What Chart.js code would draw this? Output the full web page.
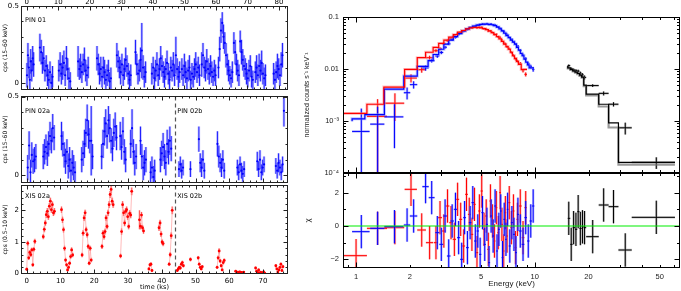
<!DOCTYPE html>
<html>
<head>
<meta charset="utf-8">
<script src="https://cdn.jsdelivr.net/npm/chart.js@4.4.1/dist/chart.umd.min.js"></script>
<style>
html, body { margin: 0; padding: 0; background: #fff; }
#wrap { position: relative; width: 681px; height: 291px; overflow: hidden; }
canvas { position: absolute; }
</style>
</head>
<body>
<div id="wrap">
	<canvas id="pin1"></canvas>
	<canvas id="pin2"></canvas>
	<canvas id="xis2"></canvas>
	<canvas id="spec"></canvas>
	<canvas id="resid"></canvas>
</div>
<script>
// ---- tick labels ----
const pin1Ticks = [0, 10, 20, 30, 40, 50, 60, 70, 80];
const obs2Ticks = [0, 10, 20, 30, 40, 50, 60, 70];
const pinRateTicks = [0, 0.5];
const xisRateTicks = [0, 1, 2];
const specTicks = [1e-4, 1e-3, 0.01, 0.1];
const specTickLabels = ['10⁻⁴', '10⁻³', '0.01', '0.1'];
const chiTicks = [-2, 0, 2];
const chiTickLabels = ['−2', '0', '2'];
const energyTicks = [1, 2, 5, 10, 20, 50];

// ---- PIN light curve, observation 01 (time ks, cps 15-60 keV, error) ----
const pin1T = [
	0.1,0.4,0.7,1.0,1.3,1.6,1.9,2.2,
	4.2,4.6,5.0,5.4,5.8,6.2,6.6,7.0,7.4,7.8,8.2,
	10.2,10.6,11.0,11.4,11.8,12.2,12.6,13.0,13.4,13.8,
	16.3,16.7,17.1,17.5,17.9,18.3,18.7,19.1,19.5,
	22.3,22.7,23.1,23.5,23.9,24.3,24.7,25.1,25.5,25.9,26.3,26.7,
	28.6,29.0,29.4,29.8,30.2,30.6,31.0,31.4,31.8,32.2,32.6,33.0,
	34.5,34.9,35.3,35.7,36.1,36.5,36.9,37.3,37.7,
	39.7,40.1,40.5,40.9,41.3,41.7,42.1,42.5,42.9,43.3,43.7,44.1,44.5,44.9,45.3,45.7,46.1,46.5,46.9,47.3,47.7,48.1,48.5,
	49.2,49.6,50.0,50.4,50.8,51.2,51.6,52.0,52.4,52.8,53.2,53.6,54.0,54.4,54.8,
	55.5,55.9,56.3,56.7,57.1,57.5,57.9,58.3,58.7,59.1,59.5,59.9,
	60.8,61.2,61.6,62.0,62.4,62.8,63.2,63.6,64.0,64.4,64.8,65.2,
	65.7,66.1,66.5,66.9,67.3,67.7,68.1,68.5,68.9,69.3,69.7,70.1,70.5,70.9,71.3,71.7,
	72.5,72.9,73.3,73.7,74.1,74.5,74.9,75.3,75.7,
	78.3,78.7,79.1,79.5,79.9,80.3,80.7,81.1
];
const pin1Y = [
	0.05,0.18,0.10,0.02,0.14,0.08,0.16,0.12,
	0.23,0.20,0.13,0.16,0.08,0.11,0.05,0.02,0.07,0.00,0.04,
	0.08,0.12,0.06,0.10,0.13,0.05,0.16,0.09,0.03,0.01,
	0.14,0.09,0.11,0.07,0.12,0.15,0.08,0.05,0.10,
	0.16,0.12,0.06,0.09,0.04,0.10,0.07,0.02,0.05,0.08,0.01,0.03,
	0.18,0.14,0.10,0.07,0.12,0.05,0.09,0.15,0.11,0.06,0.02,0.05,
	0.20,0.12,0.06,0.08,0.15,0.21,0.10,0.04,0.07,
	0.06,0.10,0.03,0.08,0.12,0.05,0.09,0.16,0.11,0.07,0.04,0.09,0.13,0.06,0.02,0.10,0.08,0.12,0.05,0.18,0.09,0.04,0.07,
	0.09,0.05,0.11,0.07,0.03,0.08,0.10,0.02,0.06,0.04,0.09,0.12,0.07,0.10,0.05,
	0.12,0.18,0.10,0.08,0.14,0.09,0.06,0.11,0.07,0.04,0.08,0.05,
	0.10,0.22,0.34,0.39,0.30,0.26,0.18,0.12,0.08,0.05,0.03,0.07,
	0.26,0.20,0.12,0.08,0.05,0.27,0.20,0.15,0.11,0.09,0.06,0.03,0.08,0.11,0.04,0.02,
	0.07,0.10,0.05,0.11,0.08,0.13,0.06,0.03,0.05,
	0.06,0.02,0.07,0.11,0.09,0.05,0.12,0.18
];
const pin1E = [
	0.08,0.08,0.07,0.07,0.08,0.07,0.08,0.08,
	0.09,0.08,0.07,0.08,0.07,0.07,0.07,0.07,0.07,0.06,0.07,
	0.07,0.08,0.07,0.08,0.08,0.07,0.08,0.07,0.07,0.06,
	0.10,0.07,0.08,0.07,0.07,0.08,0.07,0.07,0.07,
	0.08,0.07,0.07,0.08,0.07,0.07,0.08,0.07,0.07,0.07,0.06,0.07,
	0.08,0.07,0.07,0.08,0.07,0.07,0.07,0.08,0.07,0.07,0.06,0.07,
	0.08,0.07,0.07,0.07,0.08,0.18,0.08,0.07,0.07,
	0.07,0.07,0.07,0.07,0.08,0.07,0.07,0.08,0.07,0.07,0.07,0.07,0.08,0.07,0.06,0.07,0.07,0.08,0.07,0.12,0.07,0.07,0.07,
	0.07,0.07,0.08,0.07,0.07,0.07,0.08,0.06,0.07,0.07,0.07,0.08,0.07,0.07,0.07,
	0.08,0.08,0.07,0.07,0.08,0.07,0.07,0.07,0.07,0.06,0.07,0.07,
	0.07,0.08,0.08,0.07,0.08,0.07,0.08,0.07,0.07,0.06,0.06,0.07,
	0.07,0.08,0.07,0.07,0.07,0.07,0.08,0.07,0.07,0.07,0.07,0.06,0.07,0.07,0.07,0.06,
	0.07,0.08,0.07,0.08,0.07,0.08,0.07,0.07,0.07,
	0.07,0.07,0.07,0.08,0.07,0.07,0.08,0.08
];

// ---- PIN light curve, observation 02a/02b ----
const pin2T = [
	0.3,0.7,1.1,1.5,1.9,2.3,2.7,
	4.9,5.3,5.7,6.1,6.5,6.9,7.3,7.7,8.1,
	10.3,10.7,11.1,11.5,11.9,12.3,12.7,13.1,13.5,13.9,14.3,
	16.3,16.7,17.1,17.5,17.9,18.3,18.7,19.1,19.5,
	22.2,22.6,23.0,23.4,23.8,24.2,24.6,25.0,25.4,25.8,26.2,26.6,
	27.7,28.1,28.5,28.9,29.3,
	30.8,31.2,31.6,32.0,32.4,
	33.7,34.1,34.5,34.9,35.3,
	36.7,37.1,37.5,37.9,
	39.6,40.0,40.4,40.8,41.2,41.6,42.0,42.4,42.8,
	45.1,45.5,45.9,46.3,
	48.5,
	51.0,51.4,51.8,52.2,52.6,
	56.5,56.9,57.3,57.7,58.1,58.5,
	62.4,62.8,63.2,63.6,64.0,64.4,
	68.3,68.7,69.1,69.5,69.9,70.3,
	73.8,74.2,74.6,75.0,75.4,75.8,76.2
];
const pin2Y = [
	0.05,0.19,0.02,0.13,0.09,0.10,0.12,
	0.12,0.15,0.18,0.14,0.20,0.25,0.22,0.30,0.24,
	0.25,0.20,0.13,0.09,0.15,0.06,0.10,0.03,0.08,0.05,0.02,
	0.10,0.14,0.20,0.27,0.35,0.26,0.22,0.22,0.12,
	0.12,0.20,0.28,0.33,0.25,0.35,0.30,0.22,0.17,0.27,0.31,0.24,
	0.25,0.18,0.28,0.15,0.10,
	0.20,0.30,0.15,0.08,0.12,
	0.22,0.12,0.05,0.08,0.10,
	0.02,0.05,-0.01,0.03,
	0.10,0.14,0.18,0.12,0.08,0.20,0.15,0.22,0.17,
	0.04,0.07,0.03,0.05,
	0.04,
	0.23,0.08,0.05,0.10,0.03,
	0.20,0.12,0.08,0.05,0.10,0.03,
	0.05,0.02,0.07,0.03,0.01,0.04,
	0.09,0.04,0.10,0.02,0.05,0.07,
	0.06,0.03,0.08,0.05,0.02,0.07,0.41
];
const pin2E = [
	0.08,0.09,0.08,0.08,0.08,0.08,0.08,
	0.08,0.08,0.08,0.08,0.08,0.09,0.08,0.09,0.08,
	0.09,0.08,0.08,0.08,0.08,0.08,0.08,0.08,0.08,0.08,0.07,
	0.08,0.08,0.09,0.09,0.10,0.09,0.08,0.22,0.08,
	0.08,0.09,0.09,0.09,0.08,0.09,0.09,0.08,0.08,0.09,0.09,0.08,
	0.09,0.08,0.09,0.08,0.08,
	0.09,0.12,0.08,0.08,0.08,
	0.09,0.08,0.08,0.08,0.08,
	0.07,0.07,0.07,0.07,
	0.08,0.08,0.09,0.08,0.08,0.09,0.08,0.09,0.08,
	0.05,0.05,0.05,0.05,
	0.05,
	0.08,0.06,0.06,0.06,0.05,
	0.08,0.07,0.06,0.06,0.06,0.05,
	0.05,0.05,0.05,0.05,0.05,0.05,
	0.06,0.05,0.06,0.05,0.05,0.05,
	0.05,0.05,0.06,0.05,0.05,0.05,0.10
];

// ---- XIS light curve, observation 02a/02b (cps 0.5-10 keV) ----
const xisT = [
	0.0,0.3,0.6,0.9,1.2,1.5,1.8,2.1,2.4,
	4.9,5.2,5.5,5.8,6.1,6.4,6.7,7.0,7.3,7.6,7.9,8.2,
	10.3,10.6,10.9,11.2,11.5,11.8,12.1,12.4,12.7,13.0,13.3,13.6,
	16.4,16.7,17.0,17.3,17.6,17.9,18.2,18.5,18.8,19.1,
	22.3,22.6,22.9,23.2,23.5,23.8,24.1,24.4,24.7,25.0,25.3,25.6,
	27.8,28.1,28.4,28.7,29.0,29.3,29.6,29.9,30.2,30.5,30.8,31.1,
	33.4,33.7,34.0,34.3,34.6,
	36.2,36.5,36.8,37.1,
	39.2,39.5,39.8,40.1,40.4,
	42.2,42.5,42.8,43.1,
	44.6,44.9,45.2,45.5,45.8,46.1,46.4,
	48.5,
	50.8,51.1,51.4,51.7,52.0,
	56.4,56.7,57.0,57.3,57.6,57.9,58.2,58.5,
	61.9,62.2,62.5,62.8,63.1,63.4,63.7,64.0,64.3,
	67.8,68.1,68.4,68.7,69.0,69.3,69.6,69.9,70.2,70.5,
	73.8,74.1,74.4,74.7,75.0,75.3,75.6,75.9
];
const xisY = [
	0.14,0.96,0.50,0.67,0.60,0.75,0.28,0.77,1.02,
	1.17,1.40,1.60,1.86,1.97,1.80,2.13,2.29,2.02,2.18,1.92,1.97,
	2.02,1.70,1.39,0.80,0.43,0.28,0.12,0.20,0.33,0.54,0.75,0.59,
	0.59,1.28,1.76,1.92,1.39,1.23,0.86,0.33,0.80,0.43,
	0.86,1.28,1.17,1.33,1.76,1.49,1.92,2.18,2.50,2.66,2.29,2.18,
	0.56,1.33,2.18,1.92,1.60,1.97,2.02,1.80,1.49,1.90,1.85,2.60,
	1.70,1.50,1.85,1.45,1.35,
	0.15,0.28,0.30,0.10,
	1.45,1.60,1.25,1.00,0.95,
	0.30,0.60,1.20,2.00,
	0.10,0.15,0.20,0.18,0.30,0.35,0.25,
	0.45,
	0.50,0.30,0.20,0.15,0.22,
	0.20,0.50,0.72,0.40,0.25,0.12,0.35,0.42,
	0.08,0.02,0.05,0.03,0.06,0.01,0.04,0.02,0.05,
	0.18,0.08,0.04,0.12,0.02,0.05,0.01,0.03,0.06,0.02,
	0.25,0.15,0.05,0.12,0.20,0.30,0.10,0.22
];
const xisE = [
	0.05,0.08,0.07,0.07,0.07,0.07,0.06,0.07,0.08,
	0.08,0.09,0.09,0.10,0.10,0.10,0.10,0.11,0.10,0.10,0.10,0.10,
	0.10,0.10,0.09,0.08,0.07,0.06,0.05,0.06,0.06,0.07,0.08,0.07,
	0.07,0.09,0.10,0.10,0.09,0.09,0.08,0.06,0.08,0.07,
	0.08,0.09,0.09,0.09,0.10,0.09,0.10,0.11,0.11,0.12,0.11,0.10,
	0.07,0.10,0.11,0.10,0.10,0.10,0.10,0.10,0.09,0.10,0.10,0.12,
	0.30,0.10,0.10,0.09,0.09,
	0.05,0.06,0.06,0.05,
	0.10,0.10,0.09,0.08,0.08,
	0.06,0.08,0.10,0.12,
	0.04,0.05,0.05,0.05,0.06,0.06,0.05,
	0.06,
	0.06,0.05,0.05,0.04,0.05,
	0.05,0.07,0.08,0.06,0.05,0.04,0.06,0.06,
	0.03,0.02,0.03,0.02,0.03,0.02,0.03,0.02,0.03,
	0.04,0.03,0.03,0.04,0.02,0.03,0.02,0.02,0.03,0.02,
	0.05,0.04,0.03,0.04,0.05,0.05,0.03,0.05
];

// ---- spectrum: XIS (red) ----
const redE = [1.0,1.32,1.65,2.03,2.33,2.58,
	2.8,2.95,3.1,3.25,3.4,3.55,3.7,3.85,4.0,4.15,
	4.3,4.45,4.6,4.75,4.9,5.05,5.2,5.35,5.5,5.65,
	5.8,5.95,6.1,6.25,6.4,6.55,6.7,6.85,7.0,
	7.2,7.4,7.6,7.8,8.0,
	8.3,8.6,8.9];
const redHW = [0.15,0.17,0.21,0.16,0.13,0.12,
	0.075,0.075,0.075,0.075,0.075,0.075,0.075,0.075,0.075,0.075,
	0.075,0.075,0.075,0.075,0.075,0.075,0.075,0.075,0.075,0.075,
	0.075,0.075,0.075,0.075,0.075,0.075,0.075,0.075,0.075,
	0.1,0.1,0.1,0.1,0.1,
	0.15,0.15,0.15];
const redY = [0.00004,0.00123,0.0022,0.0067,0.0097,0.0165,
	0.0225,0.0245,0.0305,0.035,0.0385,0.043,0.0478,0.0505,0.053,0.058,
	0.0605,0.061,0.064,0.0615,0.0635,0.0635,0.0595,0.0585,0.0535,0.054,
	0.0505,0.0465,0.0465,0.0415,0.0405,0.0362,0.0318,0.0305,0.0268,
	0.0245,0.0208,0.0183,0.0155,0.0142,
	0.0128,0.0093,0.0079];
const redDY = [0.00006,0.0014,0.0012,0.0012,0.0012,0.0015,
	0.0016,0.0017,0.0018,0.0019,0.002,0.002,0.0021,0.0021,0.0022,0.0022,
	0.0022,0.0022,0.0023,0.0023,0.0023,0.0023,0.0022,0.0022,0.0022,0.0021,
	0.0021,0.002,0.002,0.0019,0.0019,0.0018,0.0017,0.0016,0.0015,
	0.0013,0.0012,0.0011,0.001,0.0009,
	0.0008,0.0007,0.0007];
const redChi = [-1.78,-0.14,-0.1,2.2,-0.24,-1.0,
	-1.0,0.5,-0.3,1.2,0.2,-0.8,1.6,0.4,-1.2,1.9,
	0.7,-0.5,1.3,-1.6,0.9,2.1,-0.2,0.6,-1.4,1.5,
	0.3,-0.9,1.1,-0.4,2.0,0.1,-1.5,0.8,-0.6,
	1.4,-0.1,0.9,-1.3,0.4,
	1.2,-0.7,1.1];
const redModelE = [0.85,1.15,1.43,1.87,2.2,2.45,2.7,2.9,3.1,3.3,3.5,3.7,3.9,4.1,4.3,4.5,4.7,4.9,5.1,5.3,5.5,5.7,5.9,6.1,6.3,6.5,6.7,6.9,7.1,7.3,7.5,7.7,7.9,8.1,8.4,8.7,9.05];
const redModelY = [0.0013,0.0014,0.0021,0.0045,0.0098,0.0165,0.021,0.026,0.031,0.036,0.041,0.046,0.051,0.055,0.059,0.062,0.063,0.063,0.062,0.060,0.057,0.054,0.050,0.046,0.042,0.038,0.034,0.030,0.027,0.024,0.021,0.018,0.016,0.014,0.0122,0.0098,0.0098];

// ---- spectrum: XIS (blue) ----
const blueE = [1.07,1.32,1.64,1.93,2.1,2.45,2.65,
	2.85,3.0,3.15,3.3,3.45,3.6,3.75,3.9,4.05,4.2,
	4.35,4.5,4.65,4.8,4.95,5.1,5.25,5.4,5.55,5.7,
	5.85,6.0,6.15,6.3,6.45,6.6,6.75,6.9,7.05,
	7.25,7.45,7.65,7.85,8.05,
	8.3,8.6,8.9,9.2,9.5,9.8];
const blueHW = [0.12,0.12,0.2,0.08,0.1,0.1,0.1,
	0.075,0.075,0.075,0.075,0.075,0.075,0.075,0.075,0.075,0.075,
	0.075,0.075,0.075,0.075,0.075,0.075,0.075,0.075,0.075,0.075,
	0.075,0.075,0.075,0.075,0.075,0.075,0.075,0.075,0.075,
	0.1,0.1,0.1,0.1,0.1,
	0.15,0.15,0.15,0.15,0.15,0.15];
const blueY = [0.00063,0.00087,0.0012,0.0035,0.005,0.0105,0.0145,
	0.0178,0.0208,0.0262,0.0305,0.0368,0.0405,0.0462,0.0495,0.0548,0.0575,
	0.0625,0.0655,0.0665,0.0695,0.0705,0.0728,0.072,0.0745,0.0715,0.0735,
	0.0698,0.0702,0.0655,0.0638,0.0605,0.0548,0.0528,0.0472,0.0458,
	0.0405,0.0372,0.0335,0.0302,0.0275,
	0.0228,0.0186,0.0158,0.0128,0.0112,0.0098];
const blueDY = [0.0011,0.001,0.0009,0.0009,0.0008,0.0012,0.0012,
	0.0014,0.0015,0.0016,0.0017,0.0018,0.0019,0.002,0.002,0.0021,0.0021,
	0.0022,0.0022,0.0022,0.0023,0.0023,0.0023,0.0023,0.0023,0.0023,0.0023,
	0.0023,0.0023,0.0022,0.0022,0.0022,0.0021,0.0021,0.002,0.002,
	0.0019,0.0018,0.0017,0.0016,0.0015,
	0.0013,0.0012,0.0011,0.001,0.0009,0.0009];
const blueChi = [-0.34,-0.14,-0.04,0.06,0.6,2.36,1.7,
	-0.4,-1.1,0.6,-1.8,0.3,1.0,-0.7,-2.0,0.5,-1.3,
	0.2,1.4,-0.9,-0.3,-1.7,0.8,-1.1,0.1,-2.2,0.6,
	-0.6,1.2,-1.5,-0.2,0.9,-1.9,0.4,-0.8,1.0,
	-1.2,0.2,-0.5,-1.6,0.7,
	-0.3,-1.1,0.5,-0.9,0.3,1.2];
const blueModelE = [0.95,1.12,1.44,1.85,2.2,2.53,2.7,2.9,3.1,3.3,3.5,3.7,3.9,4.1,4.3,4.5,4.7,4.9,5.1,5.3,5.5,5.7,5.9,6.1,6.3,6.5,6.7,6.9,7.1,7.3,7.5,7.7,7.9,8.1,8.3,8.5,8.7,8.9,9.1,9.3,9.5,9.9];
const blueModelY = [0.00099,0.0011,0.00133,0.0041,0.0073,0.0112,0.0145,0.019,0.024,0.030,0.036,0.042,0.048,0.054,0.059,0.063,0.067,0.070,0.072,0.073,0.073,0.072,0.071,0.068,0.064,0.059,0.054,0.049,0.044,0.040,0.036,0.033,0.030,0.026,0.023,0.020,0.018,0.0155,0.0135,0.012,0.0105,0.0105];

// ---- spectrum: PIN (black) ----
const pinE = [15.5,16.0,16.5,17.0,17.5,18.0,18.5,19.0,21.1,24.3,27.6,32.1,47.9];
const pinELo = [15.3,15.8,16.3,16.8,17.3,17.8,18.3,18.8,19.4,22.8,25.9,29.4,34.9];
const pinEHi = [15.8,16.3,16.8,17.3,17.8,18.3,18.8,19.4,22.8,25.9,29.4,34.9,60.9];
const pinY = [0.0116,0.0101,0.0096,0.0093,0.0091,0.0083,0.0077,0.0069,0.0048,0.0034,0.0021,0.00074,0.00016];
const pinDY = [0.0006,0.0006,0.0006,0.0006,0.0006,0.0006,0.0006,0.0006,0.0003,0.0003,0.0002,0.00019,0.00004];
const pinChi = [0.46,-1.1,-0.1,-0.2,0.86,-0.15,-0.05,-0.1,-0.64,1.26,1.16,-1.44,0.52];
const pinModelE = [15.3,15.8,16.3,16.8,17.3,17.8,18.3,18.8,19.4,22.8,25.9,29.4,34.9,60.9];
const pinModelY = [0.0115,0.0105,0.0098,0.0092,0.0087,0.0082,0.0076,0.007,0.0049,0.0033,0.0021,0.00092,0.00016,0.00016];
const pinModel2Y = [0.0113,0.0103,0.0096,0.009,0.0085,0.008,0.0074,0.0068,0.0047,0.0031,0.0019,0.00075,0.000145,0.000145];

// ---- helpers ----
const LF = 'DejaVu Sans';
const RF = 'Liberation Sans';
const pts = (xs, ys) => xs.map((x, i) => ({ x, y: ys[i] }));
function range(a, b, step) {
	const out = [];
	for (let v = a; v <= b + 1e-9; v += step) out.push(+v.toFixed(6));
	return out;
}
function logMinor(d0, d1) {
	const out = [];
	for (let d = d0; d <= d1; d++) for (let k = 2; k <= 9; k++) out.push(k * Math.pow(10, d));
	return out;
}

const errorBarPlugin = {
	id: 'errorBars',
	beforeDatasetsDraw(chart) {
		const { ctx, chartArea: a } = chart;
		ctx.save();
		ctx.beginPath();
		ctx.rect(a.left, a.top, a.right - a.left, a.bottom - a.top);
		ctx.clip();
		chart.data.datasets.forEach(ds => {
			const eb = ds.errorBars;
			if (!eb) return;
			const xs = chart.scales.x, ys = chart.scales.y;
			const log = ys.type === 'logarithmic';
			const draw = (color, width) => {
				ctx.strokeStyle = color;
				ctx.lineWidth = width;
				ctx.beginPath();
				ds.data.forEach((p, j) => {
					const x = xs.getPixelForValue(p.x), y = ys.getPixelForValue(p.y);
					if (eb.dy !== undefined) {
						const d = typeof eb.dy === 'number' ? eb.dy : eb.dy[j];
						const lo = p.y - d;
						const y1 = (log && lo <= 0) ? a.bottom + 5 : ys.getPixelForValue(lo);
						const y2 = ys.getPixelForValue(p.y + d);
						ctx.moveTo(x, y1);
						ctx.lineTo(x, y2);
					}
					if (eb.xLo) {
						ctx.moveTo(xs.getPixelForValue(eb.xLo[j]), y);
						ctx.lineTo(xs.getPixelForValue(eb.xHi[j]), y);
					}
				});
				ctx.stroke();
			};
			if (eb.halo) draw(eb.halo, eb.haloWidth || 2.5);
			draw(eb.color, eb.width || 1);
		});
		ctx.restore();
	}
};

const framePlugin = {
	id: 'frame',
	afterDatasetsDraw(chart, args, o) {
		if (!o.xMajor) return;
		const { ctx, chartArea: a } = chart;
		const xs = chart.scales.x, ys = chart.scales.y;
		const L = a.left + 0.5, R = a.right - 0.5, T = a.top + 0.5, B = a.bottom - 0.5;
		ctx.save();
		if (o.hline !== undefined) {
			const y = ys.getPixelForValue(o.hline);
			ctx.strokeStyle = o.hlineColor;
			ctx.lineWidth = 1.2;
			ctx.beginPath(); ctx.moveTo(L, y); ctx.lineTo(R, y); ctx.stroke();
		}
		if (o.split !== undefined) {
			const x = Math.round(xs.getPixelForValue(o.split)) + 0.5;
			ctx.strokeStyle = '#555';
			ctx.lineWidth = 1.2;
			ctx.setLineDash([4, 3]);
			ctx.beginPath(); ctx.moveTo(x, T); ctx.lineTo(x, B); ctx.stroke();
			ctx.setLineDash([]);
		}
		ctx.strokeStyle = o.color || '#000';
		ctx.lineWidth = 1;
		ctx.strokeRect(L, T, R - L, B - T);
		ctx.beginPath();
		const xt = (v, len) => {
			const p = Math.round(xs.getPixelForValue(v)) + 0.5;
			if (p < L || p > R) return;
			ctx.moveTo(p, B); ctx.lineTo(p, B - len);
			ctx.moveTo(p, T); ctx.lineTo(p, T + len);
		};
		const yt = (v, len) => {
			const p = Math.round(ys.getPixelForValue(v)) + 0.5;
			if (p < T || p > B) return;
			ctx.moveTo(L, p); ctx.lineTo(L + len, p);
			ctx.moveTo(R, p); ctx.lineTo(R - len, p);
		};
		o.xMajor.forEach(v => xt(v, o.major));
		o.xMinor.forEach(v => xt(v, o.minor));
		o.yMajor.forEach(v => yt(v, o.major));
		o.yMinor.forEach(v => yt(v, o.minor));
		ctx.stroke();
		if (o.notes) {
			ctx.fillStyle = '#000';
			ctx.font = '6.5px "DejaVu Sans"';
			ctx.textBaseline = 'middle';
			o.notes.forEach(n => ctx.fillText(n.text, xs.getPixelForValue(n.x), ys.getPixelForValue(n.y)));
		}
		ctx.restore();
	}
};

Chart.register(errorBarPlugin, framePlugin);

function makeChart(id, box, area, xPos, config) {
	const cv = document.getElementById(id);
	cv.width = box.w;
	cv.height = box.h;
	cv.style.left = box.x + 'px';
	cv.style.top = box.y + 'px';
	const o = config.options;
	o.responsive = false;
	o.animation = false;
	o.layout = { padding: {
		left: 0,
		right: box.x + box.w - area.r,
		top: xPos === 'top' ? 0 : area.t - box.y,
		bottom: xPos === 'bottom' ? 0 : box.y + box.h - area.b
	} };
	const yw = area.l - box.x;
	const xh = xPos === 'top' ? area.t - box.y : box.y + box.h - area.b;
	const zero = s => { s.paddingTop = 0; s.paddingBottom = 0; s.paddingLeft = 0; s.paddingRight = 0; };
	o.scales.y.afterFit = s => { s.width = yw; zero(s); };
	o.scales.x.afterFit = s => { s.height = xh; zero(s); };
	o.scales.x.position = xPos;
	o.plugins = Object.assign({ legend: { display: false }, tooltip: { enabled: false } }, o.plugins);
	return new Chart(cv.getContext('2d'), config);
}

function linAxis(min, max, ticks, show, extra) {
	return Object.assign({
		type: 'linear', min, max,
		grid: { display: false, drawTicks: false },
		border: { display: false },
		ticks: { display: show, font: { family: LF, size: 7 }, color: '#000', padding: 2, maxRotation: 0, autoSkip: false },
		afterBuildTicks: s => { s.ticks = ticks.map(v => ({ value: v })); }
	}, extra || {});
}
function lcTitle(text) {
	return { display: true, text, font: { family: LF, size: 6 }, color: '#000', padding: { top: 2, bottom: 0 } };
}

const lcFrame = (xMajor, xMinor, yMajor, yMinor, extra) => Object.assign({
	xMajor, xMinor, yMajor, yMinor, major: 4, minor: 2, color: '#222'
}, extra || {});

// ---- left: light curves ----
makeChart('pin1', { x: 0, y: 0, w: 296, h: 94 }, { l: 21, t: 6, r: 288, b: 92 }, 'top', {
	type: 'scatter',
	data: { datasets: [{
		data: pts(pin1T, pin1Y),
		pointRadius: 1.1, pointBackgroundColor: '#0000ff', pointBorderWidth: 0,
		errorBars: { dy: pin1E, color: '#2020ff', width: 1, halo: 'rgba(110,110,255,0.45)', haloWidth: 2.5 }
	}] },
	options: {
		scales: {
			x: linAxis(-1.8, 82.85, pin1Ticks, true, { ticks: { font: { family: LF, size: 7 }, color: '#000', padding: 0, maxRotation: 0, autoSkip: false } }),
			y: linAxis(-0.046, 0.5, pinRateTicks, true, { title: lcTitle('cps (15–60 keV)') })
		},
		plugins: { frame: lcFrame(pin1Ticks, range(-0, 82, 2), pinRateTicks, range(0.1, 0.4, 0.1),
			{ notes: [{ text: 'PIN 01', x: -0.5, y: 0.405 }] }) }
	}
});

makeChart('pin2', { x: 0, y: 92, w: 296, h: 95 }, { l: 21, t: 96, r: 288, b: 185 }, 'bottom', {
	type: 'scatter',
	data: { datasets: [{
		data: pts(pin2T, pin2Y),
		pointRadius: 1.1, pointBackgroundColor: '#0000ff', pointBorderWidth: 0,
		errorBars: { dy: pin2E, color: '#2020ff', width: 1, halo: 'rgba(110,110,255,0.45)', haloWidth: 2.5 }
	}] },
	options: {
		scales: {
			x: linAxis(-1.7, 77.4, obs2Ticks, false),
			y: linAxis(-0.048, 0.504, pinRateTicks, true, { title: lcTitle('cps (15–60 keV)') })
		},
		plugins: { frame: lcFrame(obs2Ticks, range(0, 76, 2), pinRateTicks, range(0.1, 0.4, 0.1),
			{ split: 44, notes: [{ text: 'PIN 02a', x: -0.5, y: 0.405 }, { text: 'PIN 02b', x: 44.6, y: 0.405 }] }) }
	}
});

makeChart('xis2', { x: 0, y: 181, w: 296, h: 110 }, { l: 21, t: 185, r: 288, b: 274 }, 'bottom', {
	type: 'scatter',
	data: { datasets: [{
		data: pts(xisT, xisY),
		showLine: true, spanGaps: 1.0, borderColor: 'rgba(255,140,140,0.75)', borderWidth: 0.8,
		pointRadius: 1.4, pointBackgroundColor: '#ff0000', pointBorderWidth: 0,
		errorBars: { dy: xisE, color: 'rgba(255,60,60,0.8)', width: 1, halo: 'rgba(255,150,150,0.5)', haloWidth: 2.2 }
	}] },
	options: {
		scales: {
			x: linAxis(-1.7, 77.4, obs2Ticks, true, {
				ticks: { font: { family: LF, size: 7 }, color: '#000', padding: 3, maxRotation: 0, autoSkip: false },
				title: { display: true, text: 'time (ks)', font: { family: LF, size: 6.5 }, color: '#000', padding: { top: 0, bottom: 0 } }
			}),
			y: linAxis(-0.01, 2.8, xisRateTicks, true, { title: lcTitle('cps (0.5–10 keV)') })
		},
		plugins: { frame: lcFrame(obs2Ticks, range(0, 76, 2), xisRateTicks, range(0.2, 2.8, 0.2),
			{ split: 44, notes: [{ text: 'XIS 02a', x: -0.5, y: 2.43 }, { text: 'XIS 02b', x: 44.6, y: 2.43 }] }) }
	}
});

// ---- right: spectrum and residuals ----
const eMin = 0.845, eMax = 65;
const energyMinor = [0.9, 3, 4, 6, 7, 8, 9, 30, 40, 60];

function logE(show) {
	return {
		type: 'logarithmic', min: eMin, max: eMax,
		grid: { display: false, drawTicks: false },
		border: { display: false },
		ticks: { display: show, font: { family: RF, size: 7.5 }, color: '#222', padding: 4, maxRotation: 0, autoSkip: false,
			callback: v => String(v) },
		afterBuildTicks: s => { s.ticks = energyTicks.map(v => ({ value: v })); }
	};
}

const modelLine = (xs, ys, color, width, order) => ({
	data: pts(xs, ys), showLine: true, stepped: 'after', borderColor: color, borderWidth: width,
	pointRadius: 0, order
});
const crossSet = (xs, ys, hw, dy, color, halo) => ({
	data: pts(xs, ys), pointRadius: 0, order: 1,
	errorBars: { dy, xLo: xs.map((x, i) => x - hw[i]), xHi: xs.map((x, i) => x + hw[i]), color, width: 1, halo, haloWidth: 2.4 }
});

makeChart('spec', { x: 296, y: 0, w: 385, h: 176 }, { l: 343, t: 17, r: 680, b: 173 }, 'bottom', {
	type: 'scatter',
	data: { datasets: [
		crossSet(redE, redY, redHW, redDY, '#ff0000', 'rgba(255,120,120,0.45)'),
		crossSet(blueE, blueY, blueHW, blueDY, '#0000ff', 'rgba(110,110,255,0.45)'),
		{ data: pts(pinE, pinY), pointRadius: 0, order: 1,
			errorBars: { dy: pinDY, xLo: pinELo, xHi: pinEHi, color: '#000', width: 1, halo: 'rgba(120,120,120,0.45)', haloWidth: 2.4 } },
		modelLine(redModelE, redModelY, '#ff0000', 1.2, 2),
		modelLine(blueModelE, blueModelY, '#0000ff', 1.2, 2),
		modelLine(pinModelE, pinModelY, '#000000', 1.2, 2),
		modelLine(pinModelE, pinModel2Y, 'rgba(110,110,110,0.7)', 2.2, 5),
		modelLine(redModelE, redModelY, 'rgba(255,130,130,0.45)', 3, 5),
		modelLine(blueModelE, blueModelY, 'rgba(120,140,255,0.5)', 3, 5)
	] },
	options: {
		scales: {
			x: logE(false),
			y: {
				type: 'logarithmic', min: 1e-4, max: 0.1,
				grid: { display: false, drawTicks: false },
				border: { display: false },
				ticks: { font: { family: RF, size: 7.5 }, color: '#222', padding: 4,
					callback: v => specTickLabels[specTicks.indexOf(v)] },
				afterBuildTicks: s => { s.ticks = specTicks.map(v => ({ value: v })); },
				title: { display: true, text: 'normalized counts s⁻¹ keV⁻¹', font: { family: RF, size: 7 }, color: '#222', padding: { top: 7, bottom: 0 } }
			}
		},
		plugins: { frame: { xMajor: [1, 10], xMinor: energyTicks.concat(energyMinor), yMajor: specTicks, yMinor: logMinor(-4, -2),
			major: 5, minor: 2.5, color: '#000' } }
	}
});

makeChart('resid', { x: 296, y: 170, w: 385, h: 121 }, { l: 343, t: 173, r: 680, b: 268 }, 'bottom', {
	type: 'scatter',
	data: { datasets: [
		crossSet(redE, redChi, redHW, 1, '#ff0000', 'rgba(255,120,120,0.45)'),
		crossSet(blueE, blueChi, blueHW, 1, '#0000ff', 'rgba(110,110,255,0.45)'),
		{ data: pts(pinE, pinChi), pointRadius: 0, order: 1,
			errorBars: { dy: 1, xLo: pinELo, xHi: pinEHi, color: '#000', width: 1, halo: 'rgba(120,120,120,0.45)', haloWidth: 2.4 } }
	] },
	options: {
		scales: {
			x: Object.assign(logE(true), {
				title: { display: true, text: 'Energy (keV)', font: { family: RF, size: 8 }, color: '#222', padding: { top: 0, bottom: 2 } }
			}),
			y: {
				type: 'linear', min: -2.52, max: 3.18,
				grid: { display: false, drawTicks: false },
				border: { display: false },
				ticks: { font: { family: RF, size: 7.5 }, color: '#222', padding: 4,
					callback: v => chiTickLabels[chiTicks.indexOf(v)] },
				afterBuildTicks: s => { s.ticks = chiTicks.map(v => ({ value: v })); },
				title: { display: true, text: 'χ', font: { family: RF, size: 8 }, color: '#222', padding: { top: 7, bottom: 0 } }
			}
		},
		plugins: { frame: { xMajor: [1, 10], xMinor: energyTicks.concat(energyMinor), yMajor: chiTicks, yMinor: [-1, 1, 3],
			major: 5, minor: 2.5, color: '#000', hline: 0, hlineColor: '#00ee00' } }
	}
});
</script>
</body>
</html>
